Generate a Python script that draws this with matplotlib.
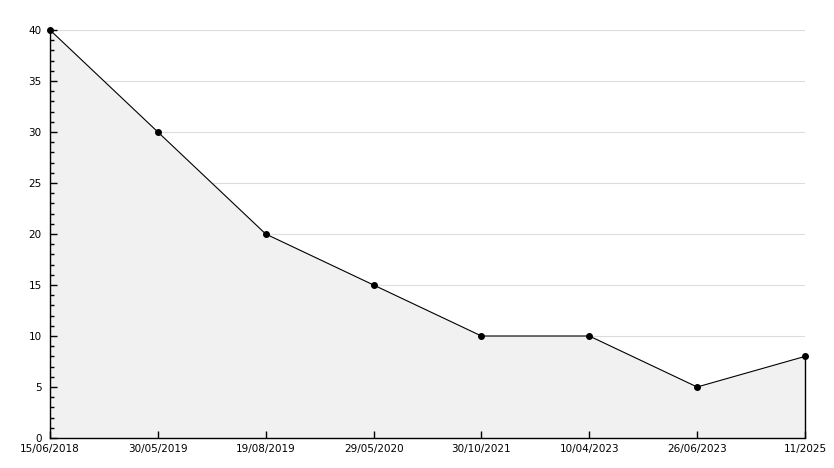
import numpy as np
import matplotlib
matplotlib.use("Agg")
import matplotlib.pyplot as plt
from matplotlib.ticker import MultipleLocator

# data
dates = ["15/06/2018", "30/05/2019", "19/08/2019", "29/05/2020",
         "30/10/2021", "10/04/2023", "26/06/2023", "11/2025"]
values = [40, 30, 20, 15, 10, 10, 5, 8]

x = np.arange(len(dates))

fig = plt.figure(figsize=(8.34, 4.68), dpi=100)
ax = fig.add_axes([50 / 834, 1 - 438 / 468, 755 / 834, 408 / 468])

ax.fill_between(x, values, 0, color="#f1f1f1", linewidth=0, zorder=1)
ax.plot(x, values, color="black", linewidth=0.8, zorder=3, clip_on=False)
ax.plot(x, values, linestyle="none", marker="o", markersize=4,
        color="black", zorder=4, clip_on=False)
ax.vlines(x[-1], 0, values[-1], color="black", linewidth=1.0, zorder=3,
          clip_on=False)

ax.set_xlim(x[0], x[-1])
ax.set_ylim(0, 40)
ax.set_xticks(x)
ax.set_xticklabels(dates)
ax.yaxis.set_major_locator(MultipleLocator(5))
ax.yaxis.set_minor_locator(MultipleLocator(1))

# grid sits under the filled area, ticks stay on top
for v in ax.get_yticks():
    if 0 < v <= 40:
        ax.axhline(v, color="#dcdcdc", linewidth=0.8, zorder=0.5)

for side in ["top", "right"]:
    ax.spines[side].set_visible(False)
ax.spines["left"].set_linewidth(1.0)
ax.spines["bottom"].set_linewidth(1.0)
ax.spines["left"].set_zorder(5)
ax.spines["bottom"].set_zorder(5)

ax.tick_params(axis="both", which="both", direction="in", labelsize=7.5,
               colors="black")
ax.tick_params(axis="y", which="major", length=5, width=1, pad=6)
ax.tick_params(axis="y", which="minor", length=3, width=1)
ax.tick_params(axis="x", which="major", length=5, width=1, pad=4)

fig.savefig("out.png", dpi=100, facecolor="white")
